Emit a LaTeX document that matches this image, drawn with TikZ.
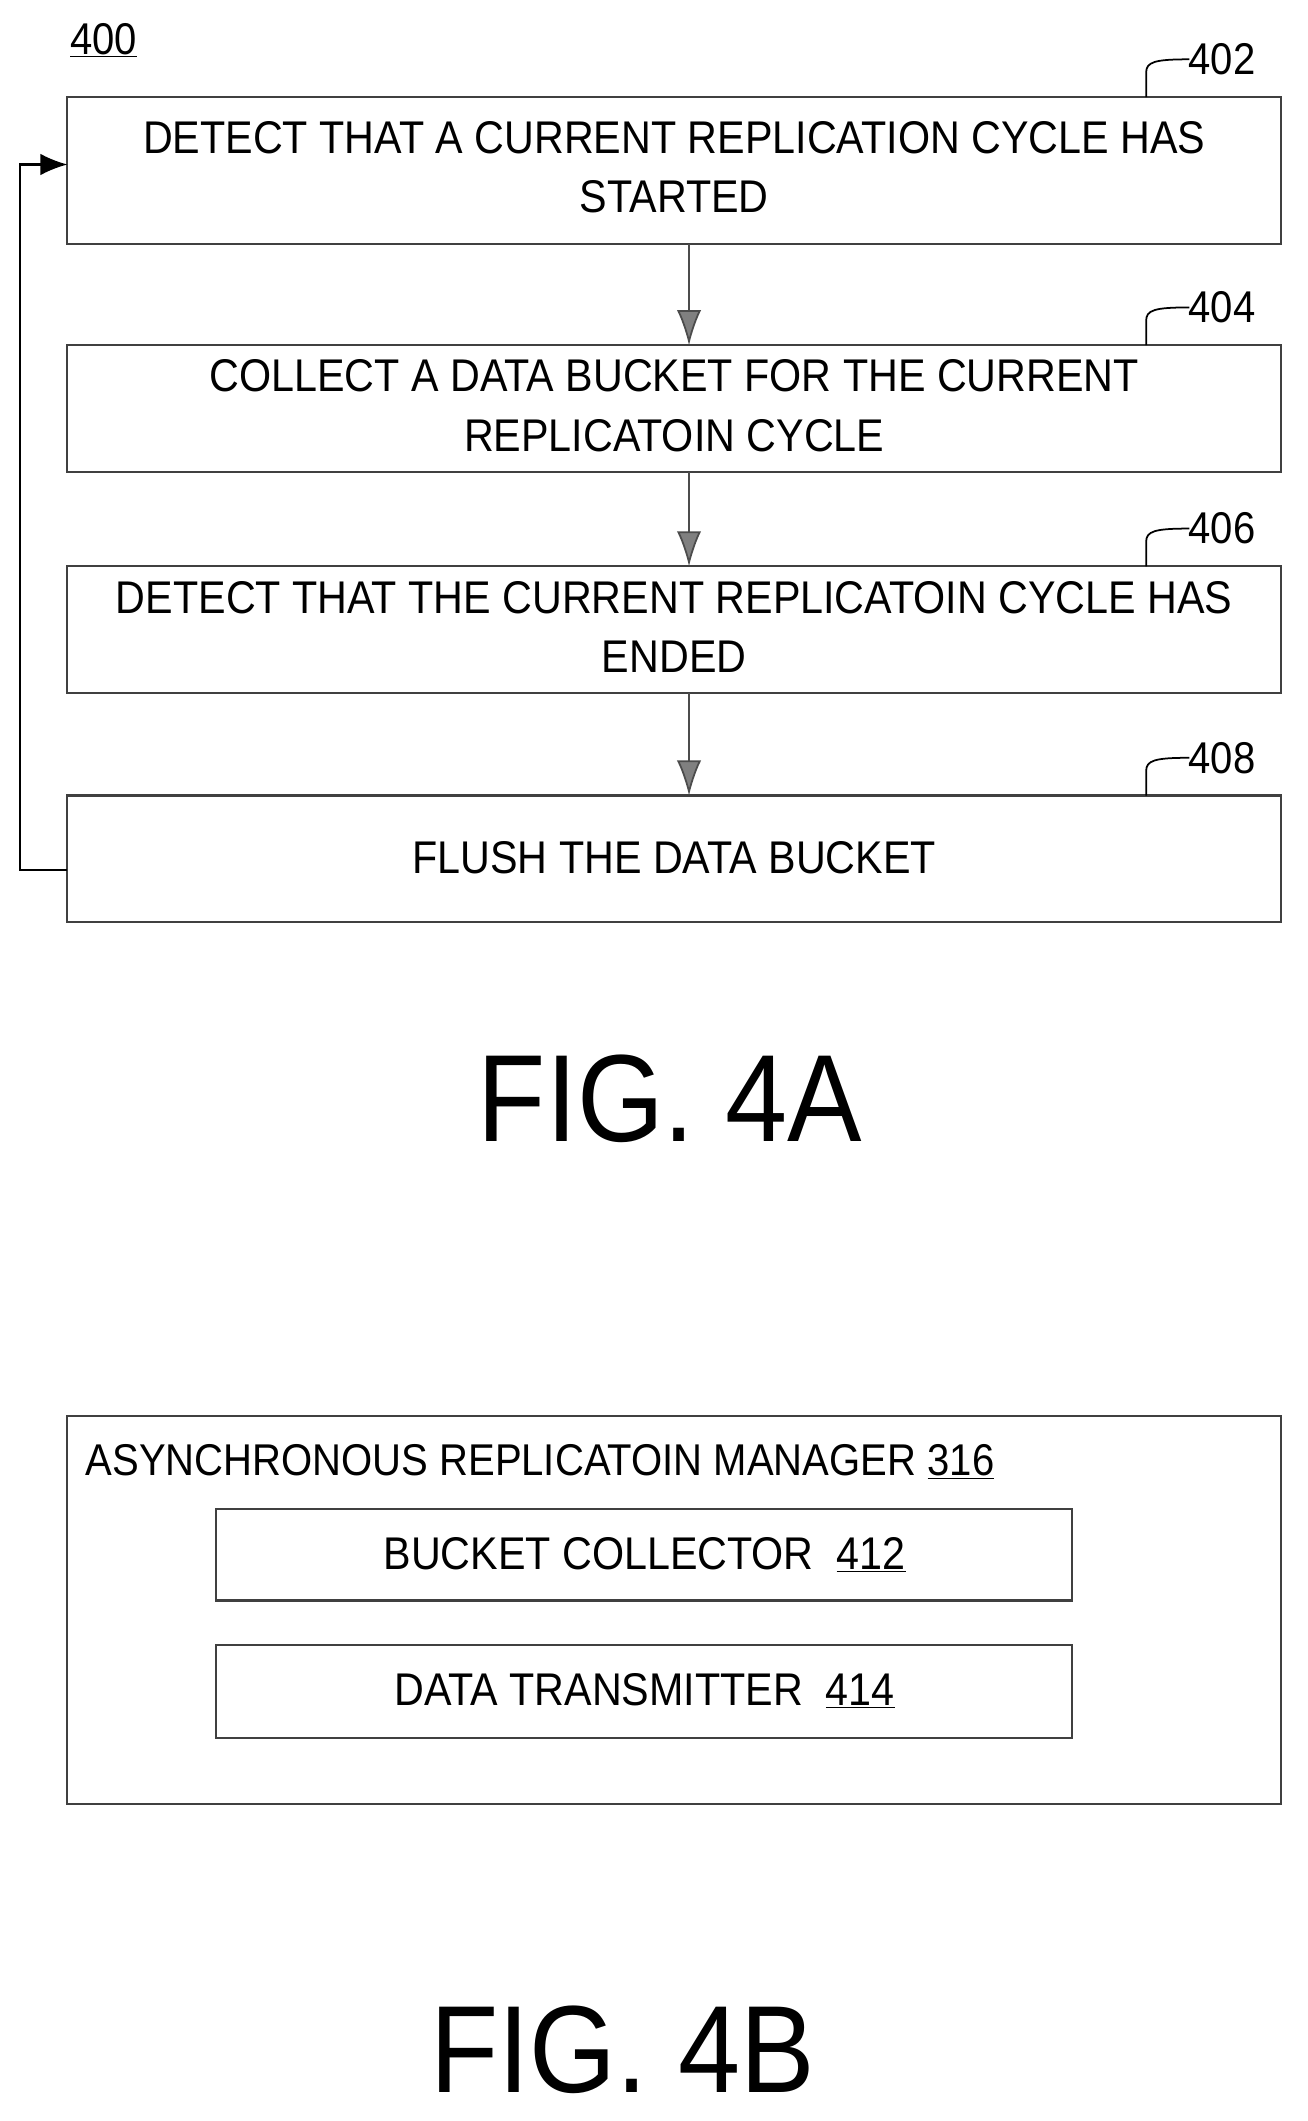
\documentclass[tikz,border=0pt]{standalone}
\usepackage{fontspec}
\setmainfont{Liberation Sans}[FakeStretch=0.9]
\usetikzlibrary{arrows.meta}
\begin{document}
\begin{tikzpicture}[x=1pt,y=-1pt,
  box/.style={draw=black!75,line width=1.6pt,inner sep=0pt},
  txt/.style={font=\fontsize{34}{44}\selectfont,align=center},
  arr/.style={draw=black!70,line width=1.3pt,-{Latex[length=26pt,width=18pt,fill=black!50]}},
  lbl/.style={font=\fontsize{33}{36}\selectfont,anchor=west},
  hook/.style={line width=1.3pt}]
\useasboundingbox (0,0) rectangle (970,1573);
\draw[box] (50,72) rectangle (950,181); \node[txt] (b402) at (500,124) {DETECT THAT A CURRENT REPLICATION CYCLE HAS\\STARTED};
\draw[box] (50,256) rectangle (950,350); \node[txt] (b404) at (500,301) {COLLECT A DATA BUCKET FOR THE CURRENT\\REPLICATOIN CYCLE};
\draw[box] (50,420) rectangle (950,514); \node[txt] (b406) at (500,465) {DETECT THAT THE CURRENT REPLICATOIN CYCLE HAS\\ENDED};
\draw[box] (50,590) rectangle (950,684); \node[txt] (b408) at (500,636) {FLUSH THE DATA BUCKET};
\coordinate (a1) at (511,181); \coordinate (a2) at (511,256);
\coordinate (a3) at (511,350); \coordinate (a4) at (511,420);
\coordinate (a5) at (511,514); \coordinate (a6) at (511,590);
\draw[arr] (a1)--(a2); \draw[arr] (a3)--(a4); \draw[arr] (a5)--(a6);
\coordinate (f1) at (50,645); \coordinate (f2) at (50,122);
\draw[line width=1.5pt,-{Latex[length=20pt,width=16pt]}] (f1)--(15,645)--(15,122)--(f2);
\foreach \y/\t in {72/402,256/404,420/406,590/408}{
  \draw[hook] (850,\y) -- (850,\y-18) .. controls (850,\y-26) and (856,\y-28) .. (882,\y-28);
  \node[lbl] at (878,\y-28) {\t};}
\node[lbl,anchor=center] (n400) at (77,30) {\underline{400}};
\node[font=\fontsize{92}{100}\selectfont] (fa) at (497,815) {FIG. 4A};
\draw[box] (50,1050) rectangle (950,1338);
\node[lbl,anchor=west] (t316) at (60,1084) {ASYNCHRONOUS REPLICATOIN MANAGER \underline{316}};
\draw[box] (160,1119) rectangle (795,1187); \node[txt] (b412) at (478,1153) {BUCKET COLLECTOR \ \underline{412}};
\draw[box] (160,1220) rectangle (795,1289); \node[txt] (b414) at (478,1254) {DATA TRANSMITTER \ \underline{414}};
\node[font=\fontsize{92}{100}\selectfont] (fb) at (462,1520) {FIG. 4B};
\end{tikzpicture}
\end{document}
